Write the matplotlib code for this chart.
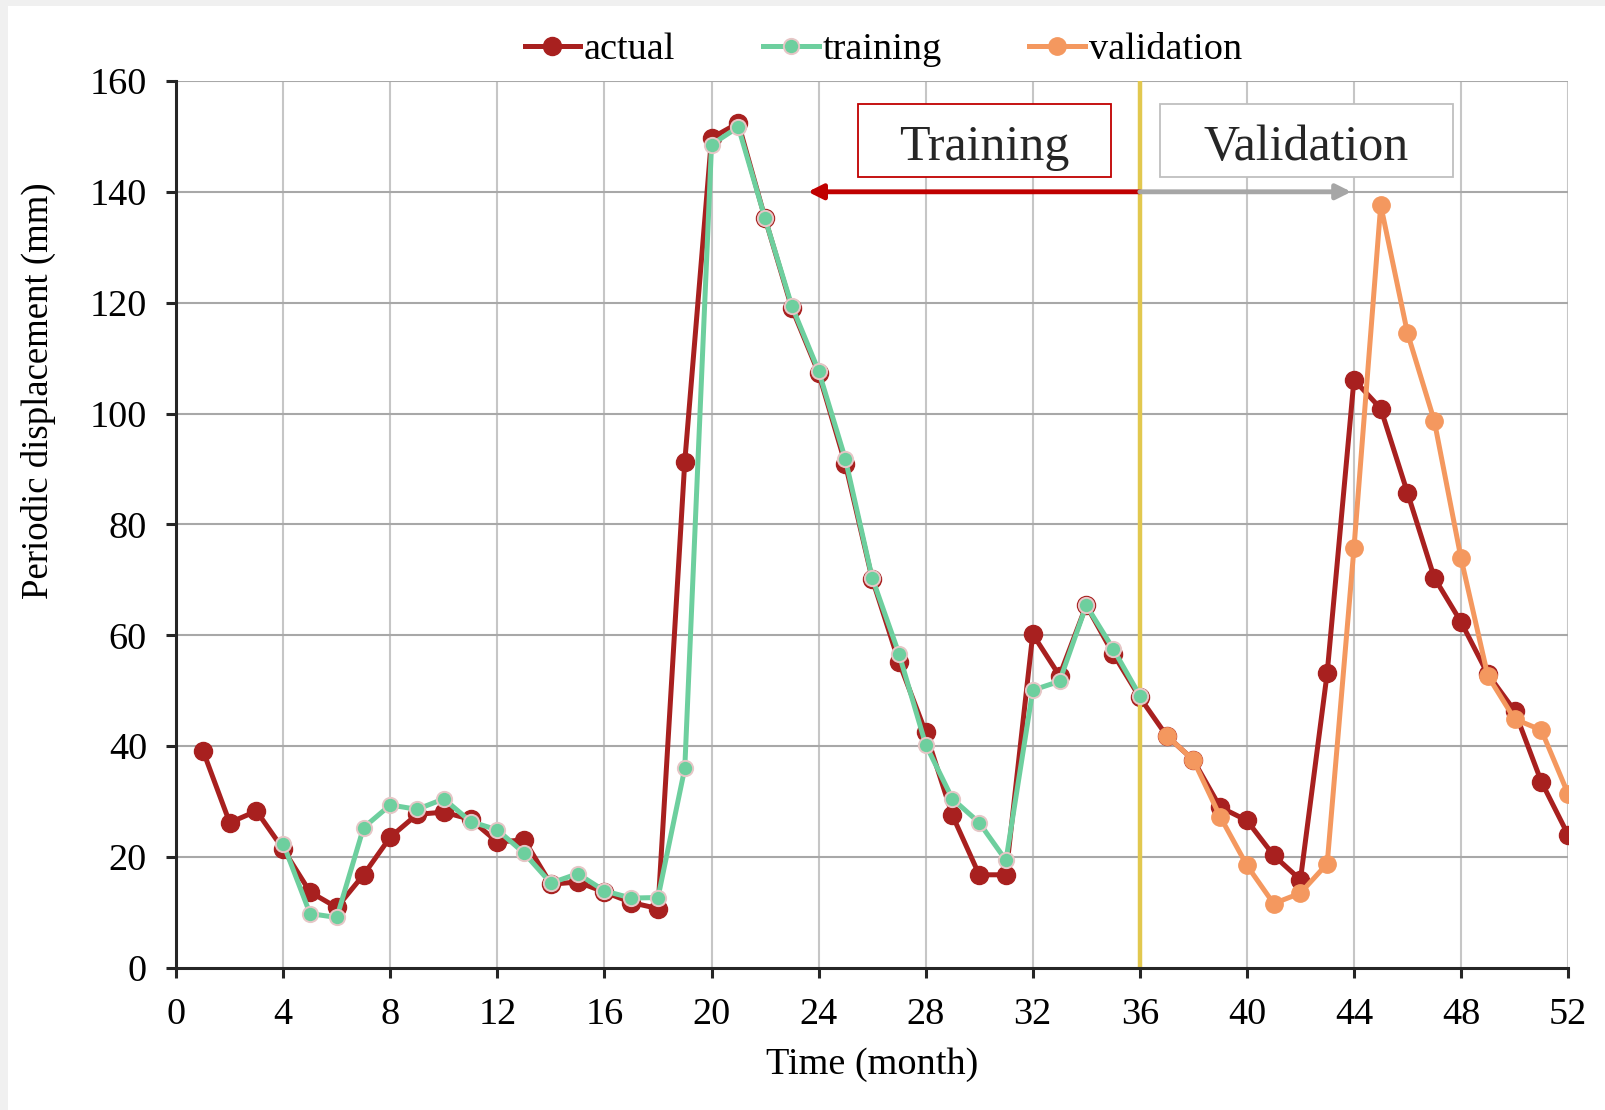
import matplotlib.pyplot as plt
from matplotlib.patches import Rectangle

# data
month = list(range(1, 53))
actual = [39.2, 26.2, 28.3, 21.4, 13.7, 10.9, 16.8, 23.6, 27.7, 28.1,
          26.8, 22.7, 23.1, 15.1, 15.5, 13.7, 11.8, 10.7, 91.3, 149.7,
          152.4, 135.2, 119.0, 107.3, 90.9, 70.2, 55.2, 42.5, 27.5, 16.8,
          16.8, 60.2, 52.7, 65.4, 56.7, 48.8, 41.9, 37.5, 29.0, 26.6,
          20.3, 15.9, 53.2, 106.1, 100.9, 85.7, 70.4, 62.4, 53.0, 46.4,
          33.6, 24.0]

train_month = list(range(4, 37))
training = [22.4, 9.8, 9.1, 25.3, 29.4, 28.6, 30.5, 26.4, 24.9, 20.7,
            15.3, 17.0, 13.9, 12.6, 12.7, 36.0, 148.5, 151.7, 135.2, 119.4,
            107.7, 91.8, 70.4, 56.7, 40.3, 30.5, 26.2, 19.4, 50.1, 51.7,
            65.4, 57.6, 49.1]

valid_month = list(range(37, 53))
validation = [41.9, 37.5, 27.3, 18.5, 11.6, 13.5, 18.8, 75.7, 137.6, 114.5,
              98.7, 73.9, 52.7, 44.9, 42.9, 31.4]

split_month = 36
x_ticks = list(range(0, 53, 4))
y_ticks = list(range(0, 161, 20))

red = '#a8201f'
green = '#6dcf9e'
orange = '#f4985f'
yellow = '#e2c84f'

plt.rcParams['font.family'] = ['Liberation Serif', 'DejaVu Serif']
fontsize = 27.5

fig = plt.figure(figsize=(16.06, 11.10), dpi=100, facecolor='#f0f0f0')
# white page, light grey strip on left and top
fig.patches.append(Rectangle((8 / 1606, 0), 1, 1 - 6 / 1110, transform=fig.transFigure,
                             facecolor='white', edgecolor='none', zorder=-10))

ax = fig.add_axes([0.1097, 0.128, 0.8667, 0.7991])
ax.set_facecolor('white')

# grid
for x in x_ticks:
    ax.plot([x, x], [0, 160], color='#c6c6c6', linewidth=1.5, zorder=0)
for y in y_ticks[1:]:
    ax.plot([0, 52], [y, y], color='#a8a8a8', linewidth=1.5, zorder=0)

ax.plot(month, actual, '-o', color=red, linewidth=3.6, markersize=13,
        markeredgecolor=red, label='actual', zorder=3)
ax.plot([split_month, split_month], [0, 160], color=yellow, linewidth=3.2, zorder=3.5)
ax.plot(train_month, training, '-o', color=green, linewidth=3.6, markersize=11,
        markeredgecolor='#e6c6c6', markeredgewidth=1.4, label='training', zorder=4)
ax.plot(valid_month, validation, '-o', color=orange, linewidth=3.6, markersize=12.5,
        markeredgecolor=orange, label='validation', zorder=4)

# training / validation annotation
ax.annotate('', xy=(23.6, 140), xytext=(split_month, 140),
            arrowprops=dict(arrowstyle='-|>', color='#c00000', lw=3.5,
                            mutation_scale=22, shrinkA=0, shrinkB=0), zorder=5)
ax.annotate('', xy=(43.9, 140), xytext=(split_month, 140),
            arrowprops=dict(arrowstyle='-|>', color='#a6a6a6', lw=3.5,
                            mutation_scale=22, shrinkA=0, shrinkB=0), zorder=5)
ax.add_patch(Rectangle((25.49, 142.6), 9.45, 13.3, facecolor='white',
                       edgecolor='#c00000', linewidth=1.3, zorder=5, clip_on=False))
ax.add_patch(Rectangle((36.75, 142.6), 10.95, 13.3, facecolor='white',
                       edgecolor='#bfbfbf', linewidth=1.3, zorder=5, clip_on=False))
ax.text(30.2, 147.9, 'Training', fontsize=36, color='#262626',
        ha='center', va='center', zorder=6)
ax.text(42.2, 147.9, 'Validation', fontsize=36, color='#262626',
        ha='center', va='center', zorder=6)

ax.set_xlim(0, 52)
ax.set_ylim(0, 160)
ax.set_xticks(x_ticks)
ax.set_yticks(y_ticks)
for s in ['top', 'right']:
    ax.spines[s].set_visible(False)
for s in ['left', 'bottom']:
    ax.spines[s].set_linewidth(2.2)
    ax.spines[s].set_color('#262626')
    ax.spines[s].set_zorder(6)
ax.tick_params(axis='both', direction='out', length=7, width=2.2,
               color='#262626', labelsize=fontsize)
ax.tick_params(axis='x', pad=14)
ax.tick_params(axis='y', pad=14)

ax.set_xlabel('Time (month)', fontsize=fontsize)
ax.set_ylabel('Periodic displacement (mm)', fontsize=26.5)
ax.xaxis.set_label_coords(0.50, -0.09)
ax.yaxis.set_label_coords(-0.086, 0.651)

leg = fig.legend(loc='center', bbox_to_anchor=(0.55, 0.955), ncol=3, frameon=False,
                 fontsize=fontsize, handlelength=1.45, handletextpad=0.1,
                 columnspacing=2.3)

plt.savefig('out.png', dpi=100, facecolor=fig.get_facecolor())
